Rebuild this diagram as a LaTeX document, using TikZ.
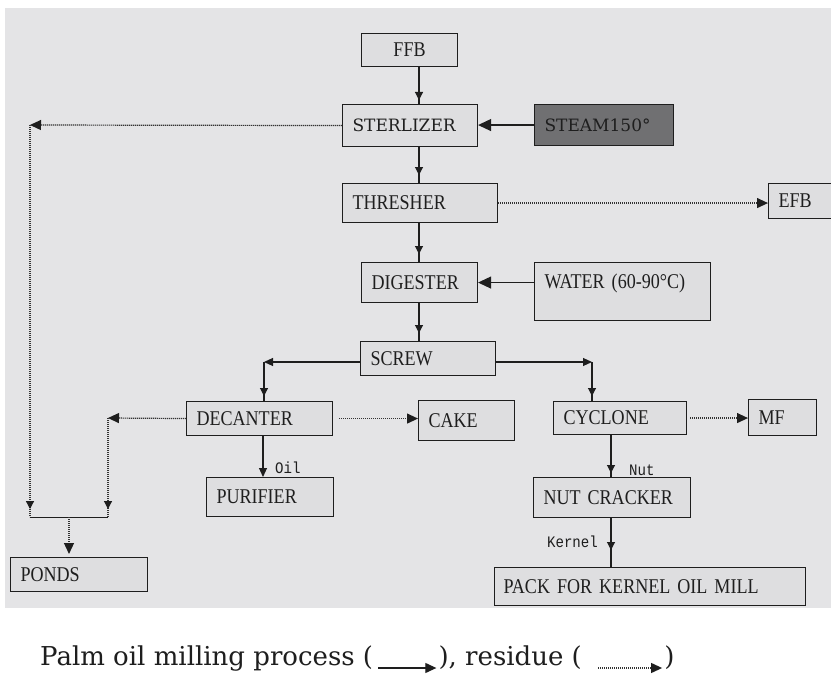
\documentclass[tikz,border=0pt]{standalone}
\usepackage{fontspec}
\setmainfont{Liberation Serif}[FakeStretch=0.86]
\newfontfamily\dvs{DejaVu Serif}
\newfontfamily\lmono{Liberation Mono}[FakeStretch=0.88]
\usetikzlibrary{arrows.meta,decorations.markings,calc}
\definecolor{bggray}{RGB}{228,228,230}
\definecolor{boxfill}{RGB}{222,222,224}
\definecolor{steamfill}{RGB}{112,112,114}
\definecolor{ink}{RGB}{30,30,30}
\tikzset{
  box/.style={draw=ink, line width=1.1pt, fill=boxfill, anchor=north west,
    inner xsep=10pt, inner ysep=0pt, align=left, text=ink,
    font=\fontsize{21}{23}\selectfont},
  proc/.style={line width=1.1pt, draw=ink},
  res/.style={line width=1.2pt, draw=black!80, dash pattern=on 1.2pt off 0.8pt},
  mk/.style={postaction={decorate}, decoration={markings,
    mark=at position #1 with {\arrow{Triangle[length=8pt,width=8pt,color=ink]}}}},
  >={Triangle[length=9pt,width=8pt,color=ink]},
  bigtip/.tip={Triangle[length=13pt,width=12pt,color=ink]},
  restip/.tip={Triangle[length=11pt,width=10pt,color=ink]},
  lbl/.style={font=\lmono\fontsize{16}{18}\selectfont, text=ink, inner sep=0pt},
  captxt/.style={font=\dvs\fontsize{26}{30}\selectfont, text=ink, inner sep=0pt},
  dvbox/.style={font=\dvs\fontsize{17}{19}\selectfont},
}
\begin{document}
\begin{tikzpicture}[x=1pt,y=-1pt]
\useasboundingbox (0,0) rectangle (831,677);
\fill[white] (0,0) rectangle (831,677);
\fill[bggray] (5,8) rectangle (831,608);

% boxes
\node[box, align=center, text width=76pt, minimum height=33pt] (ffb) at (361,33) {FFB};
\node[box, dvbox, text width=115pt, minimum height=42pt] (sterl) at (342,104) {STERLIZER};
\node[box, dvbox, fill=steamfill, text width=119pt, minimum height=41pt] (steam) at (534,104) {STEAM150°};
\node[box, text width=135pt, minimum height=39pt] (thr) at (342,183) {THRESHER};
\node[box, text width=60pt, minimum height=35pt] (efb) at (768,183) {EFB};
\node[box, text width=96pt, minimum height=40pt] (dig) at (361,262) {DIGESTER};
\node[box, text width=156pt, text height=26pt, text depth=32pt] (water) at (534,262) {WATER (60-90°C)};
\node[box, text width=115pt, minimum height=34pt] (screw) at (360,341) {SCREW};
\node[box, text width=126pt, minimum height=34pt] (dec) at (186,401) {DECANTER};
\node[box, text width=76pt, minimum height=40pt] (cake) at (418,400) {CAKE};
\node[box, text width=113pt, minimum height=33pt] (cyc) at (553,401) {CYCLONE};
\node[box, text width=48pt, minimum height=36pt] (mf) at (748,399) {MF};
\node[box, text width=107pt, minimum height=39pt] (pur) at (206,477) {PURIFIER};
\node[box, text width=137pt, minimum height=40pt] (nut) at (533,477) {NUT CRACKER};
\node[box, text width=117pt, minimum height=34pt] (ponds) at (10,557) {PONDS};
\node[box, inner xsep=9pt, text width=293pt, minimum height=38pt] (pack) at (494,567) {PACK FOR KERNEL OIL MILL};

% main trunk
\coordinate (trunk) at (419,0);
\draw[proc, mk=-4pt] (ffb.south -| trunk) -- (sterl.north -| trunk);
\draw[proc, mk=-8pt] (sterl.south -| trunk) -- (thr.north -| trunk);
\draw[proc, mk=-8pt] (thr.south -| trunk) -- (dig.north -| trunk);
\draw[proc, mk=-8pt] (dig.south -| trunk) -- (screw.north -| trunk);

% inputs
\draw[proc, -bigtip] (steam.west) -- (steam.west -| sterl.east);
\draw[proc, -bigtip] (dig.east -| water.west) -- (dig.east);

% screw branches
\coordinate (sl) at (264,362);
\coordinate (sr) at (592,362);
\draw[proc, ->] (sl -| screw.west) -- (sl);
\draw[proc, mk=-5pt] (sl) -- (sl |- dec.north);
\draw[proc, ->] (sr -| screw.east) -- (sr);
\draw[proc, mk=-5pt] (sr) -- (sr |- cyc.north);

% decanter / cyclone outputs
\coordinate (ox) at (263,0);
\draw[proc, ->] (dec.south -| ox) -- (pur.north -| ox);
\coordinate (nx) at (611,0);
\draw[proc, mk=-4pt] (cyc.south -| nx) -- (nut.north -| nx);
\draw[proc, mk=-17pt] (nut.south -| nx) -- (pack.north -| nx);
\node[lbl, anchor=base west] (oil) at (275,473) {Oil};
\node[lbl, anchor=base west] (nutl) at (629,475) {Nut};
\node[lbl, anchor=base east] (kern) at (598,547) {Kernel};

% residues
\draw[res, -restip] (thr.east) -- (thr.east -| efb.west);
\draw[res, -restip, shorten <=6pt] (dec.east) -- (dec.east -| cake.west);
\draw[res, -restip, shorten <=3pt] (cyc.east) -- (cyc.east -| mf.west);
\coordinate (c1) at (30,125);
\coordinate (c2) at (30,517);
\coordinate (c3) at (108,517);
\coordinate (c4) at (108,418);
\coordinate (c5) at (69,517);
\draw[res, -restip] (sterl.west) -- (c1);
\draw[res, mk=-8pt] (c1) -- (c2);
\draw[proc, line width=1pt] (c2) -- (c3);
\draw[res, -restip] (dec.west) -- (c4);
\draw[res, mk=-8pt] (c4) -- (c3);
\draw[res, -restip, shorten >=3pt] (c5) -- (ponds.north -| c5);

% caption
\node[captxt, anchor=base west] (cp1) at (40,665) {Palm oil milling process (};
\coordinate (a1s) at ([xshift=5pt,yshift=-3pt]cp1.base east);
\coordinate (a1e) at ([xshift=58pt]a1s);
\draw[proc, -{Triangle[length=11pt,width=10pt,color=ink]}] (a1s) -- (a1e);
\node[captxt, anchor=base west] (cp2) at ([xshift=2pt,yshift=3pt]a1e) {), residue (};
\coordinate (a2s) at ([xshift=16pt,yshift=-3pt]cp2.base east);
\coordinate (a2e) at ([xshift=64pt]a2s);
\draw[res, -{Triangle[length=11pt,width=10pt,color=ink]}] (a2s) -- (a2e);
\node[captxt, anchor=base west] (cp3) at ([xshift=2pt,yshift=3pt]a2e) {)};
\end{tikzpicture}
\end{document}
